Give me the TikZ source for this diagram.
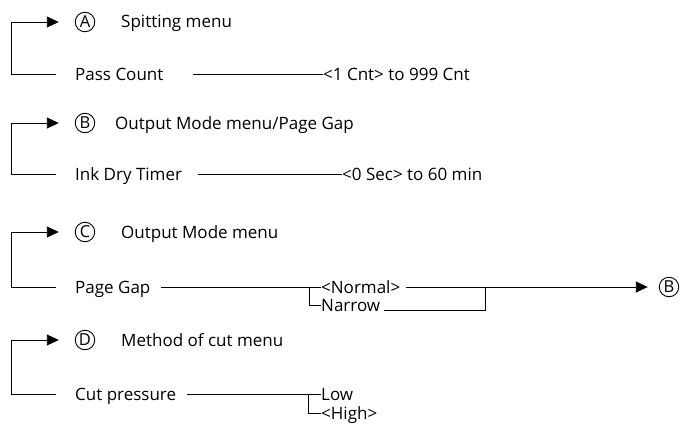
\documentclass[tikz,border=0pt]{standalone}
\usepackage{fontspec}
\setmainfont{Open Sans}
\usetikzlibrary{arrows.meta}
\tikzset{
  conn/.style={line width=0.9pt, black},
  arr/.style={conn, -{Triangle[length=12pt,width=11pt]}},
  circ/.style={draw, circle, line width=0.9pt, minimum size=19.5pt, inner sep=0pt, font=\fontsize{16.5}{16.5}\selectfont},
  lbl/.style={anchor=base west, inner sep=0pt, font=\fontsize{17}{18}\selectfont},
}
\begin{document}
\begin{tikzpicture}[x=1pt,y=-1pt]
\useasboundingbox (0,0) rectangle (682,428);

% ---- A ----
\node[circ] (cA) at (85,22) {A};
\node[lbl] (tA) at (121,28) {Spitting menu};
\node[lbl] (pc) at (75,80) {Pass Count};
\node[lbl] (vA) at (323,80) {<1 Cnt> to 999 Cnt};
\coordinate (kA) at (11,22);
\coordinate (hA) at (56,74);
\coordinate (sA) at (193,74);
\draw[arr, shorten >=16pt] (hA) -| (kA) -- (cA.west);
\draw[conn] (sA) -- (vA.west |- sA);

% ---- B ----
\node[circ] (cB) at (85,123) {B};
\node[lbl] (tB) at (115,129) {Output Mode menu/Page Gap};
\node[lbl] (idt) at (75,180) {Ink Dry Timer};
\node[lbl] (vB) at (342,180) {<0 Sec> to 60 min};
\coordinate (kB) at (11,123);
\coordinate (hB) at (56,174);
\coordinate (sB) at (198,174);
\draw[arr, shorten >=16pt] (hB) -| (kB) -- (cB.west);
\draw[conn] (sB) -- (vB.west |- sB);

% ---- C ----
\node[circ] (cC) at (85,232) {C};
\node[lbl] (tC) at (121,238) {Output Mode menu};
\node[lbl] (pg) at (75,293) {Page Gap};
\node[lbl] (nor) at (321,293) {<Normal>};
\node[lbl] (nar) at (321,311) {Narrow};
\node[circ] (cB2) at (669,287) {B};
\coordinate (kC) at (11,232);
\coordinate (hC) at (56,287);
\coordinate (sC) at (161,287);
\coordinate (jC) at (309,287);
\coordinate (eN) at ([xshift=6pt]nor.east |- jC);
\coordinate (eR) at ([xshift=4pt]nar.east |- 0,310);
\coordinate (mC) at (485,287);
\draw[arr, shorten >=16pt] (hC) -| (kC) -- (cC.west);
\draw[conn] (sC) -- (nor.west |- sC);
\draw[conn] (jC) |- (nar.west |- 0,305);
\draw[conn] (eN) -- (mC) |- (eR);
\draw[arr, shorten >=11pt] (mC) -- (cB2.west);

% ---- D ----
\node[circ] (cD) at (85,340) {D};
\node[lbl] (tD) at (121,346) {Method of cut menu};
\node[lbl] (cp) at (75,400) {Cut pressure};
\node[lbl] (lo) at (321,400) {Low};
\node[lbl] (hi) at (321,419) {<High>};
\coordinate (kD) at (11,340);
\coordinate (hD) at (56,394);
\coordinate (sD) at (187,394);
\coordinate (jD) at (308,394);
\coordinate (bD) at (308,413);
\draw[arr, shorten >=16pt] (hD) -| (kD) -- (cD.west);
\draw[conn] (sD) -- (lo.west |- sD);
\draw[conn] (jD) |- (hi.west |- bD);
\end{tikzpicture}
\end{document}
